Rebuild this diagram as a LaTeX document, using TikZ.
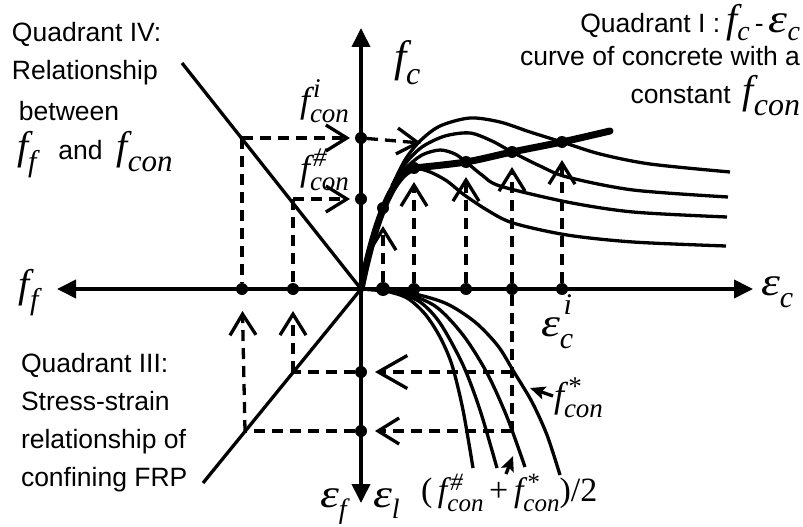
\documentclass[tikz,border=0pt]{standalone}
\usepackage{fontspec}
\usepackage{graphicx}
\setmainfont{Liberation Sans}
\newfontfamily\tms{Liberation Serif}
\usetikzlibrary{arrows.meta}
% [sub drop] base size, script size, base, sub, sup, sup raise
\newcommand\sy[7][0.40em]{\mbox{\fontsize{#2}{#2}\selectfont\tms\itshape #4\fontsize{#3}{#3}\selectfont\rlap{\kern0.12em\raisebox{#7}{#6}}\raisebox{-#1}{#5}}}
\newcommand\eps{\scalebox{1.2}[1]{ε}}
\begin{document}
\begin{tikzpicture}[x=1pt,y=-1pt,
  every node/.style={inner sep=0pt,outer sep=0pt},
  txt/.style={font=\fontsize{26.5}{30}\selectfont},
  axis/.style={line width=3.8pt,-{Triangle[length=19pt,width=18pt]}},
  solidln/.style={line width=3.3pt},
  thickln/.style={line width=7pt,line cap=round},
  dsh/.style={line width=3.3pt,dash pattern=on 11pt off 7pt},
  chev/.style={-{Straight Barb[length=21pt,width=26pt]}},
  chevbig/.style={-{Straight Barb[length=29pt,width=33pt]}},
  lblarrow/.style={line width=3.3pt,-{Stealth[length=15pt,width=13pt,inset=3pt]}},
  dot/.style={circle,fill,minimum size=12pt,inner sep=0pt}]
\useasboundingbox (0,0) rectangle (803,527);

% axes
\coordinate (O) at (361,289);
\coordinate (xr) at (753,289);
\coordinate (xl) at (57,289);
\coordinate (yt) at (361,28);
\coordinate (yb) at (361,503);
\draw[axis] (O) -- (xr);
\draw[axis] (O) -- (xl);
\draw[axis] (O) -- (yt);
\draw[axis] (O) -- (yb);

% quadrant IV and III lines
\coordinate (q4end) at (182,63);
\coordinate (q3end) at (203,483);
\draw[solidln] (q4end) -- (O);
\draw[solidln] (O) -- (q3end);

% quadrant I curves
\draw[thickln] (O) .. controls (373,230) and (390,176) .. (414,168);
\draw[thickln] plot[smooth] coordinates {(414,168) (466,162) (512,152) (562,142) (610,131)};
\draw[solidln] plot[smooth] coordinates {(392,186) (405,160) (420,141) (440,126) (470,118) (500,122) (530,132) (562,142) (600,154) (650,164) (730,172)};
\draw[solidln] plot[smooth] coordinates {(392,186) (405,164) (422,147) (445,136) (470,133) (492,141) (512,152) (540,166) (567,177) (633,190) (728,197)};
\draw[solidln] plot[smooth] coordinates {(392,186) (406,168) (422,155) (440,150) (455,154) (466,162) (482,175) (500,186) (567,202) (633,212) (727,217)};
\draw[solidln] plot[smooth] coordinates {(392,186) (404,174) (414,168) (430,172) (447,181) (463,194) (487,210) (513,223) (567,235) (633,242) (726,246)};

% quadrant II curves
\draw[solidln] plot[smooth] coordinates {(361,289) (385,291) (407,298) (425,314) (440,337) (452,365) (463,410) (473,468)};
\draw[solidln] plot[smooth] coordinates {(361,289) (395,292) (420,302) (440,323) (463,365) (480,410) (497,468)};
\draw[solidln] plot[smooth] coordinates {(361,289) (400,292) (435,306) (463,335) (487,373) (507,417) (525,467)};
\draw[solidln] plot[smooth] coordinates {(361,289) (405,292) (445,303) (475,322) (498,346) (514,372) (532,402) (547,435) (560,475)};

% dots
\node[dot] (fi) at (361,138) {};
\node[dot] (fh) at (361,199) {};
\node[dot] (ff1) at (242,289) {};
\node[dot] (ff2) at (293,289) {};
\node[dot,minimum size=14pt] (e1) at (383,289) {};
\node[dot] (e2) at (414,289) {};
\node[dot] (e3) at (466,289) {};
\node[dot] (e4) at (512,289) {};
\node[dot] (e5) at (562,289) {};
\node[dot] (l1) at (361,372) {};
\node[dot] (l2) at (361,431) {};
\node[dot] (p1) at (383,208) {};
\node[dot] (p2) at (414,168) {};
\node[dot] (p3) at (466,162) {};
\node[dot] (p4) at (512,152) {};
\node[dot] (p5) at (562,142) {};

% dashed construction lines
\coordinate (q4i) at (242,138);
\coordinate (q4h) at (293,199);
\coordinate (c0) at (421,143);
\coordinate (c1) at (512,372);
\coordinate (c2) at (512,431);
\coordinate (q3a) at (293,372);
\coordinate (q3b) at (245,431);
\draw[dsh] (q4i) -- (ff1);
\draw[dsh] (q4h) -- (ff2);
\draw[dsh,chev,shorten >=5pt] (q4i) -- (fi);
\draw[dsh,chev] (fi) -- (c0);
\draw[dsh,chev,shorten >=5pt] (q4h) -- (fh);
\draw[dsh,chev,shorten >=12pt] (e1) -- (p1);
\draw[dsh,chev,shorten >=8pt] (e2) -- (p2);
\draw[dsh,chev,shorten >=9pt] (e3) -- (p3);
\draw[dsh,chev,shorten >=9pt] (e4) -- (p4);
\draw[dsh,chev,shorten >=12pt] (e5) -- (p5);
\draw[dsh] (e4) -- (c2);
\draw[dsh,chevbig,shorten >=8pt] (c1) -- (l1);
\draw[dsh] (l1) -- (q3a);
\draw[dsh,chev,shorten >=8pt] (c2) -- (l2);
\draw[dsh] (l2) -- (q3b);
\draw[dsh,chev,shorten >=16pt] (q3a) -- (ff2);
\draw[dsh,chev,shorten >=16pt] (q3b) -- (ff1);

% texts quadrant IV
\node[txt,anchor=base west] (t4a) at (12,42) {Quadrant IV:};
\node[txt,anchor=base west] (t4b) at (12,80) {Relationship};
\node[txt,anchor=base west] (t4c) at (19,120) {between};
\node[txt,anchor=base west] (t4d) at (17,159) {\sy{40}{30}{f}{f}{}{0pt}\hspace{22pt}and\hspace{14pt}\sy{40}{31}{f}{con}{}{0pt}};

% texts quadrant I
\node[txt,anchor=base east] (t1a) at (800,33) {Quadrant I :\hspace{6pt}\sy[0.28em]{40}{28}{f}{c}{}{0pt}\hspace{5pt}-\hspace{5pt}\sy[0.28em]{40}{28}{\eps}{c}{}{0pt}};
\node[txt,anchor=base east] (t1b) at (800,66) {curve of concrete with a};
\node[txt,anchor=base east] (t1c) at (800,103) {constant\hspace{12pt}\sy{40}{32}{f}{con}{}{0pt}};

% texts quadrant III
\node[txt,anchor=base west] (t3a) at (21,372) {Quadrant III:};
\node[txt,anchor=base west] (t3b) at (21,410) {Stress-strain};
\node[txt,anchor=base west] (t3c) at (21,448) {relationship of};
\node[txt,anchor=base west] (t3d) at (21,486) {confining FRP};

% axis labels
\node[anchor=base west] (lfc) at (394,72) {\sy{44}{32}{f}{c}{}{0pt}};
\node[anchor=base west] (lfi) at (300,112) {\sy{36}{27}{f}{con}{i}{0.55em}};
\node[anchor=base west] (lfh) at (300,180) {\sy{36}{27}{f}{con}{\#}{0.5em}};
\node[anchor=base west] (lff) at (19,297) {\sy{40}{30}{f}{f}{}{0pt}};
\node[anchor=base west] (lec) at (761,295) {\sy{40}{30}{\eps}{c}{}{0pt}};
\node[anchor=base west] (leci) at (541,336) {\sy{40}{30}{\eps}{c}{i}{0.72em}};
\node[anchor=base west] (lef) at (320,507) {\sy{40}{28}{\eps}{f}{}{0pt}};
\node[anchor=base west] (lel) at (373,507) {\sy{40}{28}{\eps}{l}{}{0pt}};
\node[anchor=base west] (lfs) at (554,407) {\sy{36}{27}{f}{con}{*}{0.42em}};
\node[anchor=base west] (lavg) at (421,501) {\fontsize{34}{34}\selectfont\tms (\,\sy{34}{25}{f}{con}{\#}{0.42em}\,+\,\sy{34}{25}{f}{con}{*}{0.42em})/2};

% label pointers
\coordinate (fsTail) at (553,396);
\coordinate (fsTip) at (530,388);
\coordinate (avTail) at (506,474);
\coordinate (avTip) at (513,456);
\draw[lblarrow] (fsTail) -- (fsTip);
\draw[lblarrow] (avTail) -- (avTip);
\end{tikzpicture}
\end{document}
